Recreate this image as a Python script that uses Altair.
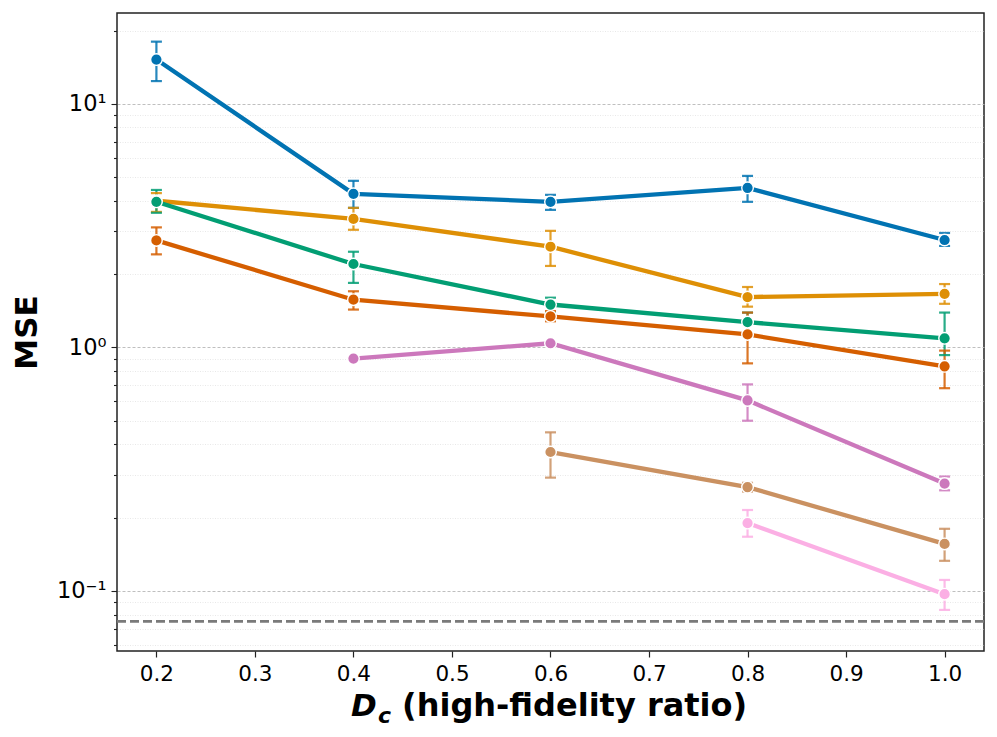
import altair as alt
import pandas as pd

# ---------------- data ----------------
series_names = ["Series 1", "Series 2", "Series 3", "Series 4", "Series 5", "Series 6", "Series 7"]
series_colors = ["#0173b2", "#de8f05", "#029e73", "#d55e00", "#cc78bc", "#ca9161", "#fbafe4"]

s1_x = [0.2, 0.4, 0.6, 0.8, 1.0]
s1_mean = [15.2, 4.27, 3.96, 4.52, 2.76]
s1_lo = [12.4, 3.74, 3.67, 3.96, 2.61]
s1_hi = [18.0, 4.83, 4.23, 5.06, 2.95]

s2_x = [0.2, 0.4, 0.6, 0.8, 1.0]
s2_mean = [4.0, 3.37, 2.59, 1.61, 1.66]
s2_lo = [3.6, 3.04, 2.16, 1.47, 1.51]
s2_hi = [4.3, 3.74, 3.01, 1.77, 1.82]

s3_x = [0.2, 0.4, 0.6, 0.8, 1.0]
s3_mean = [3.96, 2.20, 1.50, 1.27, 1.09]
s3_lo = [3.57, 1.84, 1.39, 1.15, 0.93]
s3_hi = [4.43, 2.47, 1.60, 1.39, 1.39]

s4_x = [0.2, 0.4, 0.6, 0.8, 1.0]
s4_mean = [2.75, 1.57, 1.34, 1.13, 0.836]
s4_lo = [2.41, 1.43, 1.28, 0.86, 0.68]
s4_hi = [3.11, 1.70, 1.41, 1.39, 0.97]

s5_x = [0.4, 0.6, 0.8, 1.0]
s5_mean = [0.90, 1.04, 0.606, 0.276]
s5_lo = [0.89, 1.03, 0.50, 0.259]
s5_hi = [0.91, 1.06, 0.705, 0.295]

s6_x = [0.6, 0.8, 1.0]
s6_mean = [0.372, 0.267, 0.156]
s6_lo = [0.292, 0.256, 0.133]
s6_hi = [0.448, 0.278, 0.180]

s7_x = [0.8, 1.0]
s7_mean = [0.190, 0.097]
s7_lo = [0.167, 0.0836]
s7_hi = [0.215, 0.111]

baseline_value = [0.075]

x_ticks = [0.2, 0.3, 0.4, 0.5, 0.6, 0.7, 0.8, 0.9, 1.0]
y_ticks = [0.06, 0.07, 0.08, 0.09, 0.1, 0.2, 0.3, 0.4, 0.5, 0.6, 0.7, 0.8, 0.9,
           1, 2, 3, 4, 5, 6, 7, 8, 9, 10, 20]
x_domain = [0.16, 1.04]
y_domain = [0.0567, 23.6]

x_title_parts = ["D", "c", "(high-fidelity ratio)"]
y_title = "MSE"

# ---------------- build table ----------------
all_series = [
    (s1_x, s1_mean, s1_lo, s1_hi),
    (s2_x, s2_mean, s2_lo, s2_hi),
    (s3_x, s3_mean, s3_lo, s3_hi),
    (s4_x, s4_mean, s4_lo, s4_hi),
    (s5_x, s5_mean, s5_lo, s5_hi),
    (s6_x, s6_mean, s6_lo, s6_hi),
    (s7_x, s7_mean, s7_lo, s7_hi),
]
rows, caps = [], []
for k, (xs, ms, los, his) in enumerate(all_series):
    for x, m, lo, hi in zip(xs, ms, los, his):
        rows.append({"series": series_names[k], "order": k, "x": x, "mean": m, "lo": lo, "hi": hi})
        caps.append({"series": series_names[k], "order": k, "x": x, "y": lo})
        caps.append({"series": series_names[k], "order": k, "x": x, "y": hi})
df = pd.DataFrame(rows)
df_caps = pd.DataFrame(caps)
df_base = pd.DataFrame({"y": baseline_value})

FONT = "DejaVu Sans"
W, H = 867, 638

xscale = alt.Scale(domain=x_domain, nice=False, zero=False)
yscale = alt.Scale(type="log", domain=y_domain, nice=False)
color = alt.Color("series:N", scale=alt.Scale(domain=series_names, range=series_colors), legend=None)

decade = "abs(log(datum.value)/LN10 - round(log(datum.value)/LN10)) < 0.001"

x_axis = alt.Axis(values=x_ticks, format=".1f", title=None, grid=False, domain=False,
                  labelFont=FONT, labelFontSize=21.5, labelColor="#000", tickColor="#222",
                  tickSize=6, tickWidth=1.2, labelPadding=6)

y_axis = alt.Axis(
    values=y_ticks,
    labelExpr="abs(datum.value-10)<1e-9 ? '10\u00b9' : abs(datum.value-1)<1e-9 ? '10\u2070' : abs(datum.value-0.1)<1e-9 ? '10\u207b\u00b9' : ''",
    title=y_title, titleFont=FONT, titleFontSize=31, titleFontWeight="bold", titleColor="#000",
    titleX=-81, titleY=H / 2, titleBaseline="alphabetic", titleAngle=-90, titleAlign="center",
    domain=False, labelFont=FONT, labelFontSize=22.5, labelColor="#000", labelPadding=5,
    grid=True,
    gridColor={"condition": {"test": decade, "value": "#b8b8b8"}, "value": "#e2e2e2"},
    gridDash={"condition": {"test": decade, "value": [3, 2]}, "value": [1, 1.5]},
    gridWidth={"condition": {"test": decade, "value": 0.9}, "value": 0.8},
    tickSize={"condition": {"test": decade, "value": 6}, "value": 3.5},
    tickColor="#222", tickWidth=1.1,
)

base = alt.Chart(df)

err = base.mark_rule(strokeWidth=2.2, opacity=0.85).encode(
    x=alt.X("x:Q", scale=xscale, axis=x_axis),
    y=alt.Y("lo:Q", scale=yscale, axis=y_axis),
    y2="hi:Q",
    color=color,
)

cap = alt.Chart(df_caps).mark_tick(orient="horizontal", size=11, thickness=2.2, opacity=0.85).encode(
    x=alt.X("x:Q", scale=xscale),
    y=alt.Y("y:Q", scale=yscale),
    color=color,
)

line = base.mark_line(strokeWidth=4.3).encode(
    x=alt.X("x:Q", scale=xscale),
    y=alt.Y("mean:Q", scale=yscale),
    color=color,
    detail="series:N",
    order="x:Q",
)

pts = base.mark_point(filled=True, shape="circle", size=135, stroke="white", strokeWidth=1.4, opacity=1).encode(
    x=alt.X("x:Q", scale=xscale),
    y=alt.Y("mean:Q", scale=yscale),
    fill=alt.Fill("series:N", scale=alt.Scale(domain=series_names, range=series_colors), legend=None),
)

baseline = alt.Chart(df_base).mark_rule(color="#7a7a7a", strokeWidth=2.6, strokeDash=[9, 4]).encode(
    y=alt.Y("y:Q", scale=yscale)
)

title_df = pd.DataFrame({"t": [0]})
t_d = alt.Chart(title_df).mark_text(text=x_title_parts[0], font=FONT, fontSize=31, fontWeight="bold",
                                    fontStyle="italic", align="left", baseline="alphabetic", color="#000").encode(
    x=alt.value(234), y=alt.value(702.5))
t_c = alt.Chart(title_df).mark_text(text=x_title_parts[1], font=FONT, fontSize=22, fontWeight="bold",
                                    fontStyle="italic", align="left", baseline="alphabetic", color="#000").encode(
    x=alt.value(261), y=alt.value(710))
t_rest = alt.Chart(title_df).mark_text(text=x_title_parts[2], font=FONT, fontSize=32, fontWeight="bold",
                                       align="left", baseline="alphabetic", color="#000").encode(
    x=alt.value(285), y=alt.value(702.5))

chart = alt.layer(baseline, err, cap, line, pts, t_d, t_c, t_rest).properties(
    width=W, height=H,
    autosize=alt.AutoSizeParams(type="none"),
    padding={"left": 109, "top": 5, "right": 5, "bottom": 80},
    background="white",
).configure_view(stroke="#222", strokeWidth=1.5)

chart.save("out.html", embed_options={"renderer": "svg", "actions": False})
